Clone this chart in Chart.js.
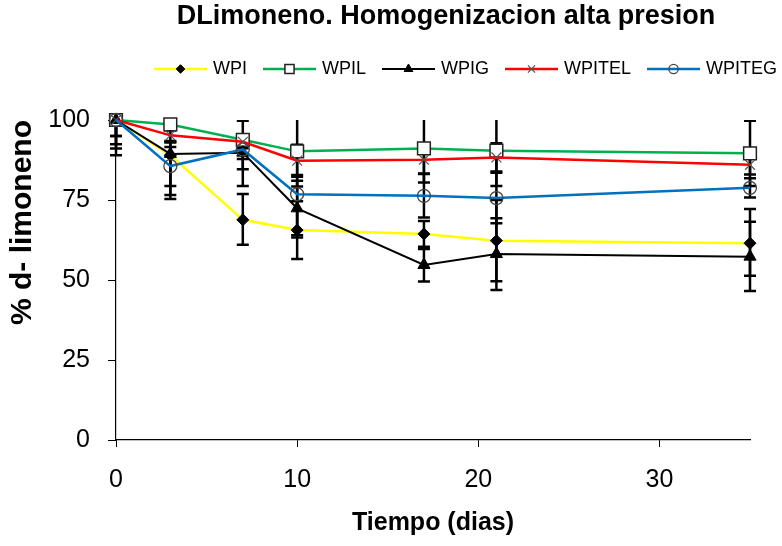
<!DOCTYPE html>
<html>
<head>
<meta charset="utf-8">
<title>DLimoneno. Homogenizacion alta presion</title>
<script src="https://cdn.jsdelivr.net/npm/chart.js@4.4.1/dist/chart.umd.min.js"></script>
<style>
  html, body { margin: 0; padding: 0; background: #fff; }
  canvas { display: block; }
</style>
</head>
<body>
<canvas id="chart" width="782" height="546"></canvas>
<script>
// days on the x axis, ticks shown on both axes
const dias = [0, 3, 7, 10, 17, 21, 35];
const xTicks = [0, 10, 20, 30];
const yTicks = [0, 25, 50, 75, 100];

// % d-limoneno per series, with the upper / lower error bar lengths
const wpi        = [100, 89.0, 68.8, 65.6, 64.4, 62.3, 61.5];
const wpiUp      = [6, 4, 8.1, 9, 4, 12.7, 10.7];
const wpiDown    = [11, 13.7, 7.8, 9, 4, 12.7, 10.2];

const wpil       = [100, 98.6, 93.8, 90.2, 91.1, 90.4, 89.6];
const wpilUp     = [5, 1, 6, 10.8, 10.6, 11, 10.2];
const wpilDown   = [5, 1, 6, 11, 10.6, 11, 10.2];

const wpig       = [100, 89.4, 89.8, 72.4, 54.7, 58.1, 57.3];
const wpigUp     = [8.9, 4, 5, 8.6, 5, 11.2, 10.9];
const wpigDown   = [8.9, 12.8, 10.4, 8.4, 5.2, 11.2, 10.7];

const wpitel     = [100, 95.2, 93.2, 87.3, 87.6, 88.3, 86.0];
const wpitelUp   = [7.6, 1.5, 2, 5, 4.3, 4.4, 3];
const wpitelDown = [7.6, 2, 2, 5, 4.3, 4.4, 3];

const wpiteg     = [100, 85.6, 90.8, 76.8, 76.3, 75.6, 78.8];
const wpitegUp   = [5, 6, 4, 6, 6.8, 7.9, 3];
const wpitegDown = [5, 6.2, 6.2, 13.5, 6.8, 7.9, 3];

const FONT = "'Liberation Sans', Arial, sans-serif";

const series = [
  {label: 'WPI', values: wpi, up: wpiUp, down: wpiDown, color: '#ffff00', width: 2.5,
    marker: 'rectRot', radius: 6, fill: '#000', edge: '#000', edgeWidth: 1},
  {label: 'WPIL', values: wpil, up: wpilUp, down: wpilDown, color: '#00b050', width: 2.5,
    marker: 'rect', radius: 9, fill: '#fff', edge: '#222', edgeWidth: 1.5},
  {label: 'WPIG', values: wpig, up: wpigUp, down: wpigDown, color: '#000', width: 2,
    marker: 'triangle', radius: 7, fill: '#000', edge: '#000', edgeWidth: 1},
  {label: 'WPITEL', values: wpitel, up: wpitelUp, down: wpitelDown, color: '#ff0000', width: 2.5,
    marker: 'crossRot', radius: 7, fill: '#555', edge: '#555', edgeWidth: 1.2},
  {label: 'WPITEG', values: wpiteg, up: wpitegUp, down: wpitegDown, color: '#0070c0', width: 2.5,
    marker: 'circle', radius: 6.5, fill: 'rgba(0,0,0,0)', edge: '#444', edgeWidth: 1.3},
];

// little line + marker picture used as the legend symbol
function swatch(s) {
  const c = document.createElement('canvas');
  c.width = 53; c.height = 18;
  const g = c.getContext('2d');
  g.strokeStyle = s.color;
  g.lineWidth = s.width;
  g.beginPath(); g.moveTo(0, 9); g.lineTo(53, 9); g.stroke();
  g.fillStyle = s.fill;
  g.strokeStyle = s.edge;
  g.lineWidth = s.edgeWidth;
  Chart.helpers.drawPoint(g, {pointStyle: s.marker, radius: s.radius * 0.72, rotation: 0, borderWidth: s.edgeWidth}, 26.5, 9);
  return c;
}

const errorBars = {
  id: 'errorBars',
  beforeDatasetsDraw(chart) {
    const {ctx, chartArea, scales: {x, y}} = chart;
    ctx.save();
    ctx.beginPath();
    ctx.rect(0, chartArea.top, chart.width, chartArea.bottom - chartArea.top);
    ctx.clip();
    ctx.strokeStyle = '#000';
    ctx.lineWidth = 2.5;
    for (const s of series) {
      s.values.forEach((v, j) => {
        const px = x.getPixelForValue(dias[j]);
        const top = y.getPixelForValue(v + s.up[j]);
        const bot = y.getPixelForValue(v - s.down[j]);
        ctx.beginPath();
        ctx.moveTo(px, top); ctx.lineTo(px, bot);
        ctx.moveTo(px - 6, top); ctx.lineTo(px + 6, top);
        ctx.moveTo(px - 6, bot); ctx.lineTo(px + 6, bot);
        ctx.stroke();
      });
    }
    ctx.restore();
  }
};

// title and legend sit right of centre in the original
const placeBoxes = {
  id: 'placeBoxes',
  afterLayout(chart) {
    const t = chart.titleBlock, l = chart.legend;
    t.left += 71; t.right += 71;
    l.left += 138; l.right += 138;
    l.top -= 32; l.bottom -= 32;
  }
};

const swatches = series.map(swatch);

new Chart(document.getElementById('chart'), {
  type: 'line',
  data: {
    datasets: series.map((s, i) => ({
      label: s.label,
      data: dias.map((d, j) => ({x: d, y: s.values[j]})),
      borderColor: s.color,
      borderWidth: s.width,
      pointStyle: s.marker,
      pointRadius: s.radius,
      pointHoverRadius: s.radius,
      pointBackgroundColor: s.fill,
      pointBorderColor: s.edge,
      pointBorderWidth: s.edgeWidth,
      tension: 0,
      clip: false,
      order: series.length - i,
    }))
  },
  options: {
    responsive: false,
    animation: false,
    devicePixelRatio: 1,
    layout: {padding: {top: 0, left: 0, right: 32, bottom: 0}},
    plugins: {
      tooltip: {enabled: false},
      title: {
        display: true,
        text: 'DLimoneno. Homogenizacion alta presion',
        color: '#000',
        font: {family: FONT, size: 27, weight: 'bold'},
        padding: {top: 0.8, bottom: 39.8}
      },
      legend: {
        display: true,
        position: 'top',
        align: 'start',
        labels: {
          usePointStyle: true,
          pointStyleWidth: 47,
          padding: 19,
          color: '#000',
          font: {family: FONT, size: 18},
          generateLabels: () => series.map((s, i) => ({
            text: s.label, pointStyle: swatches[i], datasetIndex: i,
            hidden: false, lineWidth: 0, fontColor: '#000'
          }))
        }
      }
    },
    scales: {
      x: {
        type: 'linear',
        min: 0,
        max: 35,
        afterBuildTicks: s => { s.ticks = xTicks.map(v => ({value: v})); },
        afterFit: s => { s.height = 106; },
        ticks: {color: '#000', font: {family: FONT, size: 25}, padding: 18, maxRotation: 0},
        grid: {drawOnChartArea: false, drawTicks: true, tickLength: 7, color: '#000'},
        border: {color: '#000', width: 1.2},
        title: {
          display: true, text: 'Tiempo (dias)', color: '#000',
          font: {family: FONT, size: 25, weight: 'bold'},
          padding: {top: 0, bottom: 8}
        }
      },
      y: {
        min: 0,
        max: 100,
        afterBuildTicks: s => { s.ticks = yTicks.map(v => ({value: v})); },
        afterFit: s => { s.width = 116; },
        ticks: {color: '#000', font: {family: FONT, size: 25}, padding: 18},
        grid: {drawOnChartArea: false, drawTicks: true, tickLength: 8, color: '#000'},
        border: {color: '#000', width: 1.2},
        title: {
          display: true, text: '% d- limoneno', color: '#000', align: 'end',
          font: {family: FONT, size: 30, weight: 'bold'},
          padding: {top: 5, bottom: 0}
        }
      }
    }
  },
  plugins: [errorBars, placeBoxes]
});
</script>
</body>
</html>
